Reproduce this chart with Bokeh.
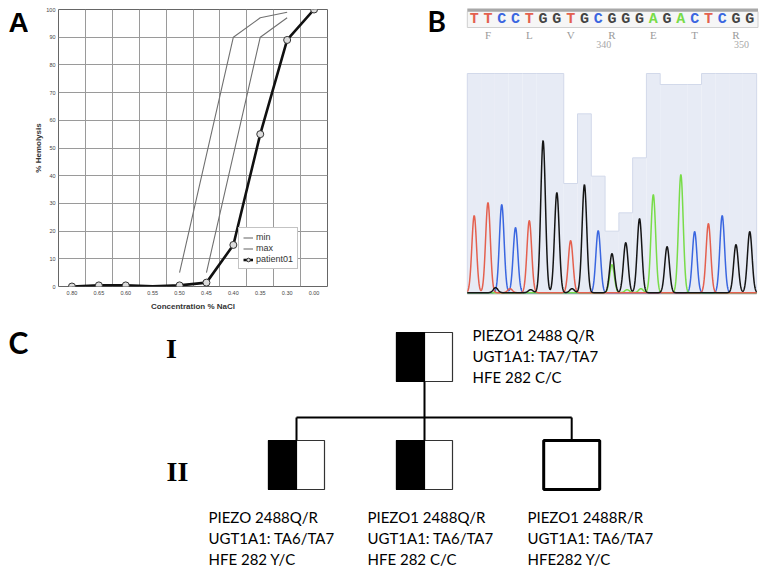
import numpy as np
from bokeh.plotting import figure
from bokeh.models import Range1d, FixedTicker, Label, ColumnDataSource
from bokeh.layouts import column, row
from bokeh.embed import file_html
from bokeh.resources import INLINE
from bokeh.core.properties import value

# ---------------- Panel A data (osmotic fragility) ----------------
conc_labels = ["0.80", "0.65", "0.60", "0.55", "0.50", "0.45", "0.40", "0.35", "0.30", "0.00"]
patient_vals = [0, 0.4, 0.4, 0.1, 0.4, 1.4, 15, 55, 89, 100]
patient_marker = [1, 1, 1, 0, 1, 1, 1, 1, 1, 1]
min_idx = [4, 6, 7, 8]
min_vals = [5, 90, 97, 99]
max_idx = [5, 7, 8]
max_vals = [5, 90, 97]
hemolysis_ticks = list(range(0, 101, 10))

# ---------------- Panel B data (chromatogram) ----------------
bases = list("TTCCTGGTGCGGGAGACTCGG")
peak_heights = [77, 90, 88, 65, 72, 152, 100, 52, 108, 62, 39, 50, 74, 98, 46, 118, 61, 69, 77, 48, 61]
quality = [60, 60, 60, 60, 60, 60, 60, 30, 49, 32, 17, 22, 37, 60, 57, 57, 57, 60, 60, 60, 60]
minor_pos = [1.55, 2.6, 4.1, 7.1, 10.0, 11.1, 12.1]
minor_base = ["G", "T", "G", "G", "A", "A", "A"]
minor_heights = [5, 4, 3, 4, 28, 3, 4]
amino_acids = ["F", "L", "V", "R", "E", "T", "R"]
codon_start = [0, 3, 6, 9, 12, 15, 18]
number_labels = ["340", "350"]
number_base = [9, 19]

# ---------------- Panel C data (pedigree) ----------------
members = ["I-1", "II-1", "II-2", "II-3"]
generation = [1, 2, 2, 2]
slot = [1.0, 0.0, 1.0, 2.15]
carrier = [True, True, True, False]
genotypes = [
    ["PIEZO1 2488 Q/R", "UGT1A1: TA7/TA7", "HFE 282 C/C"],
    ["PIEZO 2488Q/R", "UGT1A1: TA6/TA7", "HFE 282 Y/C"],
    ["PIEZO1 2488Q/R", "UGT1A1: TA6/TA7", "HFE 282 C/C"],
    ["PIEZO1 2488R/R", "UGT1A1: TA6/TA7", "HFE282 Y/C"],
]
generation_labels = ["I", "II"]

SANS = "Liberation Sans"
CAL = "Lato"

TOP_H = 316          # height of the top row (panel A)
B_H = 312            # height of panel B
BT, BB = 9, 30       # frame borders of panel A


def bare(fig):
    fig.outline_line_color = None
    fig.grid.visible = False
    fig.background_fill_color = "white"
    fig.border_fill_color = "white"
    return fig


# ================= Panel A letter strip =================
pL = bare(figure(width=28, height=TOP_H, x_range=Range1d(0, 28), y_range=Range1d(TOP_H - BB, BT),
                 x_axis_type=None, y_axis_type=None, output_backend="svg",
                 toolbar_location=None, min_border=0, min_border_top=BT, min_border_bottom=BB))
pL.add_layout(Label(x=8, y=22, text="A", text_font=SANS, text_font_size="28px",
                    text_font_style="bold", text_color="black", text_baseline="middle"))

# ================= Panel A =================
pA = figure(width=394, height=TOP_H, x_range=Range1d(0, 10), y_range=Range1d(0, 100),
            output_backend="svg", toolbar_location=None,
            min_border_left=30, min_border_right=95, min_border_top=BT, min_border_bottom=BB)
pA.outline_line_color = "#666666"
pA.background_fill_color = "white"
pA.border_fill_color = "white"

pA.xaxis.ticker = FixedTicker(ticks=[i + 0.5 for i in range(len(conc_labels))])
pA.xaxis.major_label_overrides = {i + 0.5: lab for i, lab in enumerate(conc_labels)}
pA.yaxis.ticker = FixedTicker(ticks=hemolysis_ticks)
pA.xgrid.ticker = FixedTicker(ticks=list(range(len(conc_labels) + 1)))
pA.ygrid.ticker = FixedTicker(ticks=hemolysis_ticks)
for g in (pA.xgrid, pA.ygrid):
    g.grid_line_color = "#9a9a9a"
    g.grid_line_width = 1
for ax in (pA.xaxis, pA.yaxis):
    ax.axis_line_color = None
    ax.major_tick_line_color = None
    ax.minor_tick_line_color = None
    ax.major_tick_out = 0
    ax.major_tick_in = 0
    ax.minor_tick_out = 0
    ax.major_label_text_font = SANS
    ax.major_label_text_font_size = "5.5px"
    ax.major_label_text_color = "#444444"
    ax.axis_label_text_font = SANS
    ax.axis_label_text_font_size = "8px"
    ax.axis_label_text_font_style = "bold"
    ax.axis_label_text_color = "#333333"
pA.yaxis.major_label_standoff = 3
pA.xaxis.major_label_standoff = 4
pA.yaxis.axis_label = "% Hemolysis"
pA.xaxis.axis_label = "Concentration % NaCl"
pA.yaxis.axis_label_standoff = 0
pA.xaxis.axis_label_standoff = 4

xc = [i + 0.5 for i in range(len(conc_labels))]
pA.line([i + 0.5 for i in min_idx], min_vals, color="#707070", line_width=1.1, legend_label="min")
pA.line([i + 0.5 for i in max_idx], max_vals, color="#707070", line_width=1.1, legend_label="max")
pA.line(xc, patient_vals, color="#111111", line_width=2.6, legend_label="patient01")
mx = [x for x, m in zip(xc, patient_marker) if m]
my = [v for v, m in zip(patient_vals, patient_marker) if m]
pA.scatter(mx, my, size=7, fill_color="#dddddd", line_color="#333333", line_width=1,
           legend_label="patient01")

lg = pA.legend[0]
lg.location = (180, 17)
lg.label_text_font = SANS
lg.label_text_font_size = "9px"
lg.label_text_color = "#333333"
lg.glyph_width = 10
lg.glyph_height = 9
lg.label_height = 9
lg.label_standoff = 3
lg.spacing = 1
lg.padding = 4
lg.margin = 0
lg.border_line_color = "#888888"
lg.background_fill_alpha = 1

# ================= Panel B =================
pB = bare(figure(width=342, height=B_H, x_range=Range1d(-3.752, 21.07), y_range=Range1d(-19, 293),
                 x_axis_type=None, y_axis_type=None, output_backend="svg",
                 toolbar_location=None, min_border=0))
pB.extra_y_ranges = {"qual": Range1d(-19 * 60 / 220, 293 * 60 / 220)}

idx = np.arange(len(bases))
pB.vbar(x=idx, top=quality, bottom=0, width=1.0, y_range_name="qual",
        fill_color="#e7ebf5", line_color=None)
step_x, step_y = [], []
for i, q in zip(idx, quality):
    step_x += [i - 0.5, i + 0.5]
    step_y += [q, q]
pB.line([step_x[0]] + step_x + [step_x[-1]], [0] + step_y + [0], y_range_name="qual",
        color="#d2d9ea", line_width=1)

pB.line([-0.5, len(bases) - 0.5], [0, 0], color="#c8c8c8", line_width=2)

channel_color = {"T": "#e4604e", "C": "#3a66e0", "G": "#151515", "A": "#78dc48"}
xs = np.linspace(-0.5, len(bases) - 0.5, 1500)
sigma = 0.17
for ch in ["C", "A", "T", "G"]:
    ys = np.zeros_like(xs)
    for i, (b, h) in enumerate(zip(bases, peak_heights)):
        if b == ch:
            ys += h * np.exp(-(xs - i) ** 2 / (2 * sigma ** 2))
    for pos, b, h in zip(minor_pos, minor_base, minor_heights):
        if b == ch:
            ys += h * np.exp(-(xs - pos) ** 2 / (2 * sigma ** 2))
    pB.line(xs, ys + 0.8, color=channel_color[ch], line_width=1.5)

# sequence header
pB.quad(left=-0.5, right=len(bases) - 0.4, bottom=266, top=282, fill_color="#f6f6f6",
        line_color="#cfcfcf")
pB.quad(left=-0.5, right=len(bases) - 0.4, bottom=282, top=285, fill_color="#a8a8a8",
        line_color=None)
pB.text(x=list(idx), y=[274] * len(bases), text=bases,
        text_color=[channel_color[b] if b != "G" else "#444444" for b in bases],
        text_font=value("Liberation Mono"), text_font_size="15px", text_font_style="bold",
        text_align="center", text_baseline="middle")
pB.text(x=[c + 1 for c in codon_start], y=[259] * len(amino_acids), text=amino_acids,
        text_color="#9a9a9a", text_font=value("Liberation Serif"), text_font_size="11px",
        text_align="center", text_baseline="middle")
pB.text(x=[b + 0.4 for b in number_base], y=[249] * len(number_labels), text=number_labels,
        text_color="#a8a8a8", text_font=value("Liberation Serif"), text_font_size="10px",
        text_align="center", text_baseline="middle")

pB.add_layout(Label(x=-3.39, y=273, text="B", text_font=CAL, text_font_size="28px",
                    text_font_style="bold", text_color="black", text_baseline="middle"))

# ================= Panel C =================
PX, PY = 128.0, 108.0   # pixels per slot / per generation
X0, Y0 = 296.0, 356.5


def ux(px):
    return (px - X0) / PX


def uy(py):
    return 1 + (py - Y0) / PY


pC = bare(figure(width=764, height=574 - TOP_H,
                 x_range=Range1d(ux(0), ux(764)), y_range=Range1d(uy(574), uy(TOP_H)),
                 x_axis_type=None, y_axis_type=None, output_backend="svg",
                 toolbar_location=None, min_border=0))

SW, SH = 28 / PX, 24.5 / PY
sib_y = uy(417)

children = [i for i, g in enumerate(generation) if g == 2]
parent = [i for i, g in enumerate(generation) if g == 1][0]
line_xs = [[slot[parent], slot[parent]],
           [min(slot[c] for c in children), max(slot[c] for c in children)]]
line_ys = [[generation[parent] + SH, sib_y], [sib_y, sib_y]]
for c in children:
    line_xs.append([slot[c], slot[c]])
    line_ys.append([sib_y, generation[c] - SH])
pC.multi_line(line_xs, line_ys, line_color="black", line_width=2)

src = ColumnDataSource(dict(
    left=[s - SW for s in slot], right=[s + SW for s in slot],
    top=[g - SH for g in generation], bottom=[g + SH for g in generation],
    lw=[1.2 if c else 3 for c in carrier],
    lc=["#333333" if c else "black" for c in carrier]))
pC.quad(left="left", right="right", top="top", bottom="bottom", source=src,
        fill_color="white", line_color="lc", line_width="lw")
half = [i for i, c in enumerate(carrier) if c]
pC.quad(left=[slot[i] - SW for i in half], right=[slot[i] for i in half],
        top=[generation[i] - SH for i in half], bottom=[generation[i] + SH for i in half],
        fill_color="black", line_color="black", line_width=1.2)

# genotype labels
text_left_px = [472, 208, 367, 527]
tx, ty, tt = [], [], []
for i, lines in enumerate(genotypes):
    centers = [334, 355.5, 376.5] if generation[i] == 1 else [516.5, 537, 558.5]
    for ln, cy in zip(lines, centers):
        tx.append(ux(text_left_px[i]))
        ty.append(uy(cy))
        tt.append(ln)
pC.text(x=tx, y=ty, text=tt, text_font=value(CAL), text_font_size="15px",
        text_color="black", text_align="left", text_baseline="middle")

pC.text(x=[ux(171), ux(177)], y=[uy(348), uy(471)],
        text=generation_labels, text_font=value("Liberation Serif"), text_font_size="28px",
        text_font_style="bold", text_color="black", text_align="center",
        text_baseline="middle")

pC.add_layout(Label(x=ux(8), y=uy(341), text="C", text_font=CAL,
                    text_font_size="30px", text_font_style="bold", text_color="black",
                    text_baseline="middle"))

layout = column(row(row(pL, pA), pB), pC)
open("out.html", "w").write(file_html(layout, INLINE))
